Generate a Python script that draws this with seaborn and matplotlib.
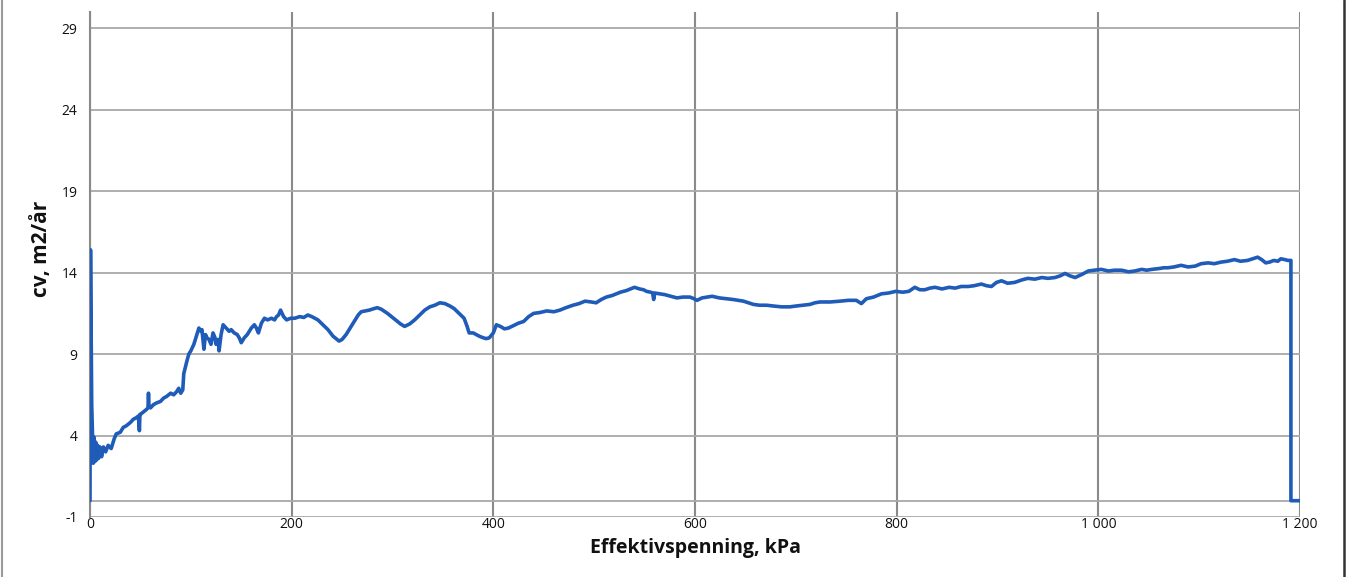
import matplotlib
matplotlib.use("Agg")
import matplotlib.pyplot as plt
from matplotlib.lines import Line2D
import seaborn as sns
import pandas as pd

# Effective stress (kPa)
x_kpa = [0, 0.5, 1.7, 2.5, 3.2, 4.0, 4.8, 5.6, 6.6, 7.5, 8.5, 9.9, 11.5, 13.3, 15.5, 18, 21, 24, 26, 30,
         33, 36, 40, 43, 46, 48, 49, 49.5, 51, 54, 56, 57.5, 58, 58.5, 60, 63, 66, 70, 73, 76,
         80, 83, 86, 88, 90, 92, 93, 96, 98, 100, 103, 105, 108, 110, 111, 113, 114.5, 116, 118, 120,
         122, 124, 125, 127, 128, 130, 132, 135, 138, 140, 143, 146, 148, 150, 153, 156, 160, 163, 165, 167,
         170, 173, 176, 180, 183, 185, 187, 189, 192, 195, 199, 203, 208, 212, 216, 220, 223, 226, 231, 236,
         241, 245, 247, 250, 254, 257, 262, 266, 269, 273, 277, 282, 285, 289, 295, 299, 303, 308, 312, 317,
         322, 327, 332, 337, 342, 347, 352, 357, 361, 366, 371, 374, 376, 380, 383, 386, 390, 393, 396, 400,
         403, 407, 411, 415, 420, 425, 430, 435, 440, 446, 453, 460, 466, 472, 479, 485, 491, 497, 502, 507,
         512, 518, 526, 532, 536, 540, 545, 549, 552, 556, 558, 559, 560, 565, 570, 576, 582, 588, 595, 599,
         602, 607, 612, 617, 624, 631, 638, 643, 648, 653, 658, 664, 671, 678, 686, 694, 700, 707, 714, 719,
         724, 734, 744, 752, 760, 765, 770, 777, 785, 792, 799, 806, 812, 818, 823, 828, 833, 838, 845, 852,
         858, 864, 871, 877, 884, 889, 894, 899, 904, 910, 917, 924, 930, 937, 944, 950, 957, 962, 967, 972,
         977, 984, 990, 996, 1003, 1010, 1016, 1023, 1030, 1036, 1043, 1048, 1053, 1060, 1065, 1069, 1075, 1082, 1089, 1096,
         1102, 1109, 1115, 1122, 1128, 1135, 1141, 1148, 1153, 1158, 1162, 1166, 1170, 1174, 1178, 1181, 1185, 1188, 1191, 1191,
         1200]

# Coefficient of consolidation cv (m2/year)
cv_values = [0.0, 15.4, 5.9, 4.1, 2.3, 3.9, 2.4, 3.6, 2.5, 3.4, 2.6, 3.3, 2.7, 3.3, 3.0, 3.4, 3.2, 3.8, 4.1, 4.2,
             4.5, 4.6, 4.8, 5.0, 5.1, 5.2, 4.3, 5.3, 5.35, 5.5, 5.6, 5.7, 6.6, 5.8, 5.7, 5.9, 6.0, 6.1, 6.3, 6.4,
             6.6, 6.5, 6.7, 6.9, 6.6, 6.8, 7.8, 8.55, 9.0, 9.2, 9.6, 10.0, 10.6, 10.4, 10.5, 9.3, 10.2, 10.0, 9.9, 9.6,
             10.3, 10.0, 9.6, 9.9, 9.2, 10.2, 10.8, 10.6, 10.4, 10.5, 10.3, 10.2, 10.0, 9.7, 10.0, 10.2, 10.6, 10.8, 10.6, 10.3,
             10.9, 11.2, 11.1, 11.2, 11.1, 11.3, 11.4, 11.7, 11.3, 11.1, 11.2, 11.2, 11.3, 11.25, 11.4, 11.3, 11.2, 11.1, 10.8, 10.5,
             10.1, 9.9, 9.8, 9.9, 10.2, 10.5, 11.0, 11.4, 11.6, 11.65, 11.7, 11.8, 11.85, 11.75, 11.5, 11.3, 11.1, 10.85, 10.7, 10.85,
             11.1, 11.4, 11.7, 11.9, 12.0, 12.15, 12.1, 11.95, 11.8, 11.5, 11.2, 10.7, 10.3, 10.3, 10.2, 10.1, 10.0, 9.95, 10.0, 10.3,
             10.8, 10.7, 10.55, 10.6, 10.75, 10.9, 11.0, 11.3, 11.5, 11.55, 11.65, 11.6, 11.7, 11.85, 12.0, 12.1, 12.25, 12.2, 12.15, 12.35,
             12.5, 12.6, 12.8, 12.9, 13.0, 13.1, 13.0, 12.95, 12.85, 12.8, 12.75, 12.35, 12.75, 12.7, 12.65, 12.55, 12.45, 12.5, 12.5, 12.4,
             12.3, 12.45, 12.5, 12.55, 12.45, 12.4, 12.35, 12.3, 12.25, 12.15, 12.05, 12.0, 12.0, 11.95, 11.9, 11.9, 11.95, 12.0, 12.05, 12.15,
             12.2, 12.2, 12.25, 12.3, 12.3, 12.1, 12.4, 12.5, 12.7, 12.75, 12.85, 12.8, 12.85, 13.1, 12.95, 12.95, 13.05, 13.1, 13.0, 13.1,
             13.05, 13.15, 13.15, 13.2, 13.3, 13.2, 13.15, 13.4, 13.5, 13.35, 13.4, 13.55, 13.65, 13.6, 13.7, 13.65, 13.7, 13.8, 13.95, 13.8,
             13.7, 13.9, 14.1, 14.15, 14.2, 14.1, 14.15, 14.15, 14.05, 14.1, 14.2, 14.15, 14.2, 14.25, 14.3, 14.3, 14.35, 14.45, 14.35, 14.4,
             14.55, 14.6, 14.55, 14.65, 14.7, 14.8, 14.7, 14.75, 14.85, 14.95, 14.8, 14.6, 14.65, 14.75, 14.7, 14.85, 14.8, 14.75, 14.75, 0.0,
             0.0]

y_ticks = [-1, 4, 9, 14, 19, 24, 29]
x_ticks = [0, 200, 400, 600, 800, 1000, 1200]
x_tick_labels = ["0", "200", "400", "600", "800", "1 000", "1 200"]

x_label = "Effektivspenning, kPa"
y_label = "cv, m2/år"

sns.set_theme(style="white")
plt.rcParams["font.family"] = ["Open Sans", "DejaVu Sans"]
plt.rcParams["axes.unicode_minus"] = False

fig = plt.figure(figsize=(13.51, 5.77), dpi=100)
ax = fig.add_axes([90 / 1351, 60 / 577, 1210 / 1351, 505 / 577])

df = pd.DataFrame({"x": x_kpa, "cv": cv_values})

ax.set_xlim(0, 1200)
ax.set_ylim(-1, 30)
ax.set_yticks(y_ticks)
ax.set_xticks(x_ticks)
ax.set_xticklabels(x_tick_labels)

ax.grid(axis="y", color="#a8a8a8", linewidth=1.3)
ax.grid(axis="x", color="#8a8a8a", linewidth=1.5)
ax.axhline(0, color="#a8a8a8", linewidth=1.3, zorder=1)

sns.lineplot(data=df, x="x", y="cv", sort=False, estimator=None, ax=ax,
             color="#1f5bb8", linewidth=2.6, zorder=3)

for s in ["top", "right", "bottom"]:
    ax.spines[s].set_visible(False)
ax.spines["left"].set_color("#8a8a8a")
ax.spines["left"].set_linewidth(1.5)

ax.tick_params(axis="y", length=0, pad=9, labelsize=10, labelcolor="#111111")
ax.tick_params(axis="x", length=0, pad=0, labelsize=10, labelcolor="#111111")

ax.set_xlabel(x_label, fontsize=14, fontweight="bold", color="#111111")
ax.set_ylabel(y_label, fontsize=15, fontweight="bold", color="#111111")
ax.xaxis.set_label_coords(0.5, -0.042)
ax.yaxis.set_label_coords(-0.031, 0.53)

# scan border edges
fig.add_artist(Line2D([1.5 / 1351, 1.5 / 1351], [0, 1], transform=fig.transFigure,
                      color="#9a9a9a", linewidth=1.5))
fig.add_artist(Line2D([1344 / 1351, 1344 / 1351], [0, 1], transform=fig.transFigure,
                      color="#333333", linewidth=1.8))

fig.savefig("out.png", dpi=100)
